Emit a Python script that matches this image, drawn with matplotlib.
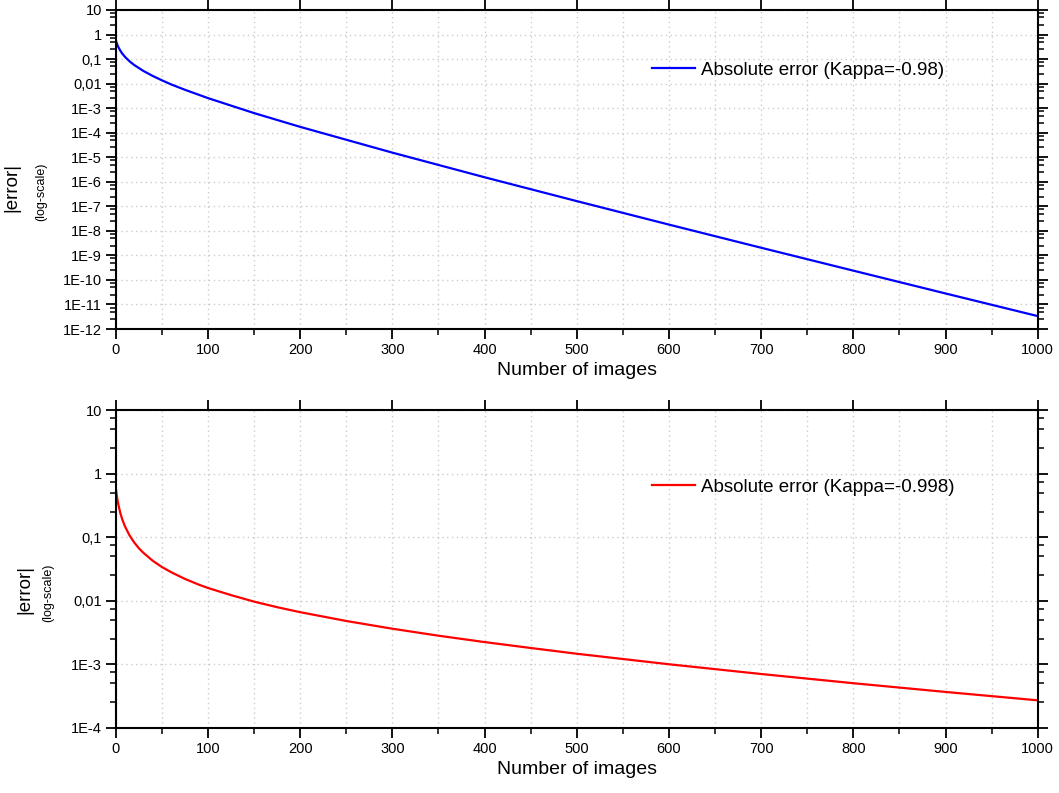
import matplotlib
matplotlib.use("Agg")
import matplotlib.pyplot as plt
from matplotlib.ticker import FixedLocator, FuncFormatter, MultipleLocator
import numpy as np

plt.rcParams['font.family'] = ['Liberation Sans', 'DejaVu Sans']

# values
n_top = [0, 1, 2, 3, 5, 7, 10, 15, 20, 30, 40, 50, 60, 75, 100, 125, 150,
         200, 300, 400, 500, 600, 700, 800, 900, 1000]
err_top = [0.606, 0.456, 0.362, 0.299, 0.218, 0.169, 0.123, 0.0807, 0.0573,
           0.0328, 0.0206, 0.01367, 9.3e-3, 5.61e-3, 2.57e-3, 1.27e-3,
           6.30e-4, 1.73e-4, 1.54e-5, 1.53e-6, 1.63e-7, 1.80e-8, 2.05e-9,
           2.39e-10, 2.81e-11, 3.36e-12]

n_bot = [0, 1, 2, 3, 5, 7, 10, 15, 20, 25, 30, 40, 50, 60, 75, 90, 100, 125,
         150, 175, 200, 250, 300, 350, 400, 450, 500, 600, 700, 800, 900, 1000]
err_bot = [0.606, 0.464, 0.376, 0.316, 0.2386, 0.1915, 0.1474, 0.1061,
           0.0825, 0.0670, 0.0566, 0.0426, 0.0339, 0.0281, 0.0220, 0.0179,
           0.01585, 0.01223, 9.66e-3, 7.90e-3, 6.59e-3, 4.79e-3, 3.62e-3,
           2.81e-3, 2.23e-3, 1.80e-3, 1.461e-3, 9.98e-4, 7.01e-4, 5.02e-4,
           3.66e-4, 2.70e-4]

label_top = 'Absolute error (Kappa=-0.98)'
label_bot = 'Absolute error (Kappa=-0.998)'


def log_label(v, pos):
    e = int(round(np.log10(v)))
    if e >= 0:
        return str(10 ** e)
    if e == -1:
        return '0,1'
    if e == -2:
        return '0,01'
    return '1E%d' % e


def style_axis(ax, emin, emax):
    ax.set_yscale('log')
    ax.set_xlim(0, 1000)
    ax.set_ylim(10.0 ** emin, 10.0 ** emax)
    ax.xaxis.set_major_locator(MultipleLocator(100))
    ax.xaxis.set_minor_locator(MultipleLocator(50))
    ax.yaxis.set_major_locator(FixedLocator([10.0 ** e for e in range(emin, emax + 1)]))
    minors = [m * 10.0 ** e for e in range(emin, emax) for m in (2.5, 5, 7.5)]
    ax.yaxis.set_minor_locator(FixedLocator(minors))
    ax.yaxis.set_major_formatter(FuncFormatter(log_label))
    ax.yaxis.set_minor_formatter(FuncFormatter(lambda v, p: ''))
    ax.grid(True, which='major', axis='both', color='#cccccc', linestyle=(0, (1, 2.5)), linewidth=1)
    ax.grid(True, which='minor', axis='x', color='#cccccc', linestyle=(0, (1, 2.5)), linewidth=1)
    ax.tick_params(which='major', direction='out', length=7, width=1.3,
                   labelsize=10.5, top=True, right=True, pad=3)
    ax.tick_params(which='minor', direction='out', length=4, width=1.1,
                   top=False, right=True)
    for s in ax.spines.values():
        s.set_linewidth(1.5)
    ax.set_xlabel('Number of images', fontsize=14, labelpad=4)


fig = plt.figure(figsize=(10.59, 7.93), dpi=100)
ax1 = fig.add_axes([0.1093, 0.5851, 0.8706, 0.4023])
ax2 = fig.add_axes([0.1093, 0.0823, 0.8706, 0.4006])

ax1.plot(n_top, err_top, color='#0000ff', linewidth=1.6, label=label_top)
ax2.plot(n_bot, err_bot, color='#ff0000', linewidth=1.6, label=label_bot)
style_axis(ax1, -12, 1)
style_axis(ax2, -4, 1)

for ax, yy in ((ax1, 0.812), (ax2, 0.758)):
    ax.legend(loc='center left', bbox_to_anchor=(0.5817, yy), frameon=False,
              fontsize=13.5, handlelength=2.3, handletextpad=0.3, borderpad=0,
              borderaxespad=0)

W, H = 1059, 793
for (x1, y1), (x2, y2) in (((12, 187), (41, 192)), ((25, 589), (48, 593))):
    fig.text(x1 / W, 1 - y1 / H, '|error|', rotation=90, fontsize=13.5,
             ha='center', va='center')
    fig.text(x2 / W, 1 - y2 / H, '(log-scale)', rotation=90, fontsize=9,
             ha='center', va='center')

fig.savefig('out.png', dpi=100)
